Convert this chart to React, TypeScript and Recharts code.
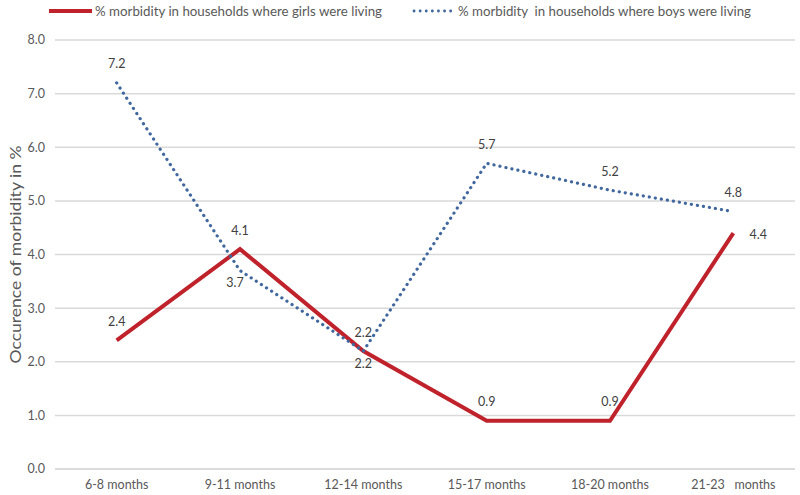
import React from "react";
import { LineChart, Line, XAxis, YAxis, CartesianGrid, Legend, LabelList, Label } from "recharts";

const categories = ["6-8 months", "9-11 months", "12-14 months", "15-17 months", "18-20 months", "21-23   months"];
const girlsValues = [2.4, 4.1, 2.2, 0.9, 0.9, 4.4];
const boysValues = [7.2, 3.7, 2.2, 5.7, 5.2, 4.8];
const yTicks = [0, 1, 2, 3, 4, 5, 6, 7, 8];
const girlsName = "% morbidity in households where girls were living";
const boysName = "% morbidity  in households where boys were living";
const yAxisTitle = "Occurence of morbidity in %";

const data = categories.map((c, i) => ({ category: c, girls: girlsValues[i], boys: boysValues[i] }));

const RED = "#c0222c";
const BLUE = "#41689e";
const FONT = "Lato, 'Liberation Sans', sans-serif";

const girlsPlacement = ["top", "top", "bottom", "top", "top", "right"];
const boysPlacement = ["top", "bottomLeft", "top", "top", "top", "top"];

const offsets: Record<string, [number, number]> = {
  top: [0, -19],
  bottom: [0, 12],
  bottomLeft: [-5, 12],
  right: [25, 1],
};

const makeLabel = (placement: string[]) => (props: any) => {
  const { x, y, value, index } = props;
  const [dx, dy] = offsets[placement[index]] || offsets.top;
  return (
    <text
      x={x + dx}
      y={y + dy}
      textAnchor="middle"
      dominantBaseline="central"
      fontFamily={FONT}
      fontSize={12.5}
      fill="#404040"
    >
      {Number(value).toFixed(1)}
    </text>
  );
};

const XTick = (props: any) => {
  const { x, y, payload } = props;
  return (
    <text
      x={x}
      y={y + 12}
      textAnchor="middle"
      fontFamily={FONT}
      fontSize={12.5}
      fill="#595959"
      style={{ whiteSpace: "pre" }}
    >
      {payload.value}
    </text>
  );
};

const LegendContent = () => (
  <svg width={800} height={22}>
    <line x1={49} x2={92} y1={11} y2={11} stroke={RED} strokeWidth={4} />
    <text x={95} y={11} dominantBaseline="central" fontFamily={FONT} fontSize={13} fill="#595959" textLength={287} lengthAdjust="spacingAndGlyphs" style={{ whiteSpace: "pre" }}>
      {girlsName}
    </text>
    <line x1={414} x2={454} y1={11} y2={11} stroke={BLUE} strokeWidth={2.8} strokeDasharray="0.1 6" strokeLinecap="round" />
    <text x={458} y={11} dominantBaseline="central" fontFamily={FONT} fontSize={13} fill="#595959" textLength={293} lengthAdjust="spacingAndGlyphs" style={{ whiteSpace: "pre" }}>
      {boysName}
    </text>
  </svg>
);

export default function App() {
  return (
    <div style={{ width: 800, height: 495, background: "#fff" }}>
      <style>{"body{margin:0}"}</style>
      <LineChart width={800} height={495} data={data} margin={{ top: 40, right: 5, left: 0, bottom: 0 }}>
        <CartesianGrid horizontal vertical={false} stroke="#d9d9d9" strokeWidth={1.5} />
        <XAxis
          dataKey="category"
          scale="band"
          height={26}
          axisLine={{ stroke: "#d9d9d9", strokeWidth: 1.5 }}
          tickLine={false}
          tickMargin={2}
          interval={0}
          tick={<XTick />}
        />
        <YAxis
          width={55}
          domain={[0, 8]}
          ticks={yTicks}
          axisLine={false}
          tickLine={false}
          tickMargin={4}
          tickFormatter={(v: number) => v.toFixed(1)}
          tick={{ fontFamily: FONT, fontSize: 12.5, fill: "#595959" }}
        >
          <Label
            content={(props: any) => {
              const vb = props.viewBox || { x: 0, y: 40, height: 429 };
              const cx = 15;
              const cy = vb.y + vb.height / 2;
              return (
                <text
                  x={cx}
                  y={cy}
                  transform={`rotate(-90, ${cx}, ${cy})`}
                  textAnchor="middle"
                  dominantBaseline="central"
                  fontFamily={FONT}
                  fontSize={14.5}
                  fill="#595959"
                  textLength={218}
                  lengthAdjust="spacingAndGlyphs"
                >
                  {yAxisTitle}
                </text>
              );
            }}
          />
        </YAxis>
        <Legend
          verticalAlign="middle"
          align="center"
          layout="horizontal"
          wrapperStyle={{ position: "absolute", top: 0, left: 0, width: 800, height: 22 }}
          content={() => <LegendContent />}
        />
        <Line
          type="linear"
          dataKey="girls"
          name={girlsName}
          stroke={RED}
          strokeWidth={4}
          dot={false}
          activeDot={false}
          isAnimationActive={false}
          strokeLinejoin="miter"
        >
          <LabelList dataKey="girls" content={makeLabel(girlsPlacement)} />
        </Line>
        <Line
          type="linear"
          dataKey="boys"
          name={boysName}
          stroke={BLUE}
          strokeWidth={3.2}
          strokeDasharray="0.1 6"
          strokeLinecap="round"
          dot={false}
          activeDot={false}
          isAnimationActive={false}
        >
          <LabelList dataKey="boys" content={makeLabel(boysPlacement)} />
        </Line>
      </LineChart>
    </div>
  );
}
